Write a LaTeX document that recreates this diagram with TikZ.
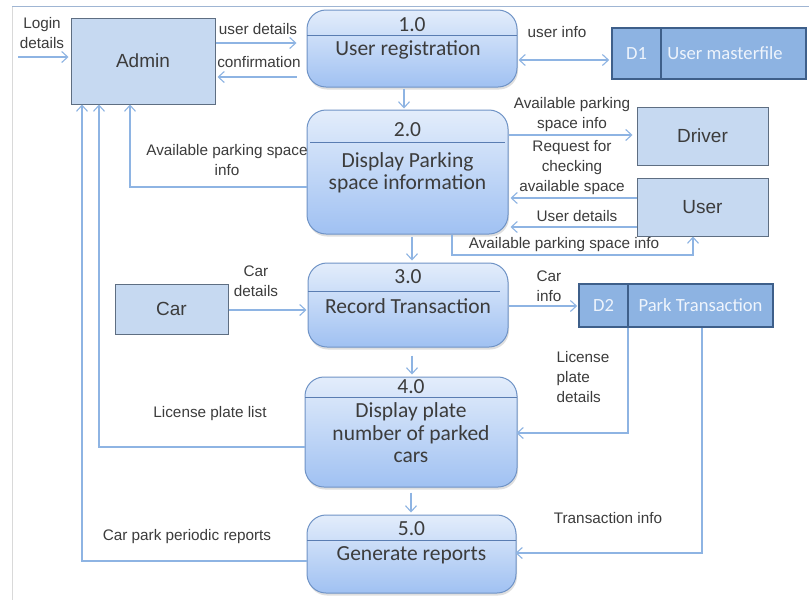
\documentclass[tikz,border=0pt]{standalone}
\usepackage{fontspec}
\setmainfont{Liberation Sans}
\newfontfamily\calibri{Carlito}
\usetikzlibrary{arrows.meta,shadows}

\definecolor{flowline}{HTML}{8EB4E3}
\definecolor{entfill}{HTML}{C6D9F1}
\definecolor{entline}{HTML}{5E6E82}
\definecolor{storefill}{HTML}{8DB3E2}
\definecolor{storeline}{HTML}{3E5F8A}
\definecolor{storetext}{HTML}{EEF4FC}
\definecolor{procline}{HTML}{6F93C6}
\definecolor{proctop}{HTML}{E3EDFB}
\definecolor{procbot}{HTML}{A0C1F2}
\definecolor{divline}{HTML}{5A7DB2}
\definecolor{txt}{HTML}{3C3C3C}
\definecolor{frametop}{HTML}{9FB5D3}

\tikzset{
  flow/.style={draw=flowline, line width=1.2pt, -{Straight Barb[length=6pt,width=11pt,line width=1.1pt]}},
  flowtwo/.style={draw=flowline, line width=1.2pt, {Straight Barb[length=6pt,width=11pt,line width=1.1pt]}-{Straight Barb[length=6pt,width=11pt,line width=1.1pt]}},
  entity/.style={draw=entline, fill=entfill, line width=1pt, inner sep=0pt,
    text=txt, font=\fontsize{19}{21}\selectfont},
  store/.style={draw=storeline, fill=storefill, line width=1.6pt, inner sep=0pt},
  storetxt/.style={text=storetext, font=\calibri\fontsize{18.6}{20}\selectfont, inner sep=0pt},
  proc/.style={draw=procline, line width=1pt, rounded corners=19pt, inner sep=0pt,
    top color=proctop, bottom color=procbot,
    drop shadow={shadow xshift=1pt, shadow yshift=-2.5pt, opacity=0.25}},
  divider/.style={draw=divline, line width=1pt},
  ptext/.style={text=txt, font=\calibri\fontsize{21.5}{22.5}\selectfont, align=center, inner sep=0pt},
  lbl/.style={text=txt, font=\fontsize{15.3}{20}\selectfont, align=center, inner sep=0pt},
}

\begin{document}
\begin{tikzpicture}[x=1pt, y=-1pt]
\useasboundingbox (0,0) rectangle (809,600);
\fill[white] (0,0) rectangle (809,600);

% page frame
\draw[draw=black!15, line width=1pt] (12,6.5) -- (12,600);
\draw[draw=frametop, line width=1pt] (12,6.5) -- (809,6.5);

% external entities
\node[entity, minimum width=144pt, minimum height=86pt] (admin) at (143,61) {Admin};
\node[entity, minimum width=131pt, minimum height=58pt] (driver) at (702.5,136) {Driver};
\node[entity, minimum width=131pt, minimum height=58pt] (user) at (702.5,207) {User};
\node[entity, minimum width=113pt, minimum height=50pt] (car) at (171.5,309) {Car};

% data stores
\node[store, minimum width=194pt, minimum height=51pt] (d1) at (709,53.5) {};
\draw[draw=storeline, line width=1.6pt] (661,28) -- (661,79);
\node[storetxt] (d1id) at (636.5,53.5) {D1};
\node[storetxt] (d1name) at (725,53.5) {User masterfile};

\node[store, minimum width=194pt, minimum height=43pt] (d2) at (676,305.5) {};
\draw[draw=storeline, line width=1.6pt] (628,284) -- (628,327);
\node[storetxt] (d2id) at (603.5,305.5) {D2};
\node[storetxt] (d2name) at (700.5,305.5) {Park Transaction};

% processes
\node[proc, minimum width=210pt, minimum height=77pt] (p1) at (412,48.5) {};
\draw[divider] (307,35) -- (517,35);
\node[ptext] (p1no) at (412,25) {1.0};
\node[ptext] (p1tx) at (408,50) {User registration};

\node[proc, minimum width=201pt, minimum height=124pt] (p2) at (407.5,172) {};
\draw[divider] (310,142) -- (505,142);
\node[ptext] (p2no) at (407.5,130) {2.0};
\node[ptext] (p2tx) at (407.5,173) {Display Parking\\space information};

\node[proc, minimum width=200pt, minimum height=84pt] (p3) at (408,305) {};
\draw[divider] (308,291) -- (500,291);
\node[ptext] (p3no) at (408,277) {3.0};
\node[ptext] (p3tx) at (408,306) {Record Transaction};

\node[proc, minimum width=212pt, minimum height=110pt] (p4) at (411,432) {};
\draw[divider] (305,397) -- (517,397);
\node[ptext] (p4no) at (411,387) {4.0};
\node[ptext] (p4tx) at (411,433) {Display plate\\number of parked\\cars};

\node[proc, minimum width=209pt, minimum height=78pt] (p5) at (411.5,554) {};
\draw[divider] (307,540) -- (516,540);
\node[ptext] (p5no) at (411.5,529) {5.0};
\node[ptext] (p5tx) at (411.5,555) {Generate reports};

% data flows
\coordinate (login) at (18,57);
\draw[flow, shorten >=2pt] (login) -- (admin.west |- login);
\draw[flow, shorten >=10pt] (admin.east |- 0,43) -- (p1.west |- 0,43);
\draw[flow, shorten <=10pt, shorten >=2pt] (p1.west |- 0,77) -- (admin.east |- 0,77);
\draw[flowtwo, shorten <=1pt, shorten >=2pt] (p1.east |- 0,60) -- (d1.west |- 0,60);

\draw[flow, shorten <=1pt, shorten >=1pt] (404,0 |- p1.south) -- (404,0 |- p2.north);
\draw[flow, shorten >=4pt] (p2.east |- 0,135) -- (driver.west |- 0,135);
\draw[flow, shorten >=2pt] (user.west |- 0,198) -- (p2.east |- 0,198);
\draw[flow, shorten >=2pt] (user.west |- 0,227) -- (p2.east |- 0,227);
\draw[flow] (452,0 |- p2.south) -- (452,255) -- (693,255) -- (693,0 |- user.south);
\draw[flow, shorten <=2pt, shorten >=2pt] (412,0 |- p2.south) -- (412,0 |- p3.north);
\draw[flow] (p2.west |- 0,187) -- (130,187) -- (130,0 |- admin.south);

\draw[flow, shorten >=1pt] (car.east |- 0,310) -- (p3.west |- 0,310);
\draw[flow, shorten >=1pt] (p3.east |- 0,306) -- (d2.west |- 0,306);
\draw[flow, shorten <=8pt, shorten >=2pt] (412,0 |- p3.south) -- (412,0 |- p4.north);

\draw[flow, shorten >=-1pt] (628,0 |- d2.south) -- (628,433) -- (p4.east |- 0,433);
\draw[flow] (p4.west |- 0,447) -- (99,447) -- (99,0 |- admin.south);
\draw[flow, shorten <=5pt, shorten >=2pt] (411,0 |- p4.south) -- (411,0 |- p5.north);

\draw[flow, shorten >=-1pt] (702,0 |- d2.south) -- (702,553) -- (p5.east |- 0,553);
\draw[flow] (p5.west |- 0,561) -- (82,561) -- (82,0 |- admin.south);

% flow labels
\node[lbl] (l-login) at (42,33) {Login\\details};
\node[lbl] (l-ud) at (258,29) {user details};
\node[lbl] (l-conf) at (259,62) {confirmation};
\node[lbl] (l-uinfo) at (557,32) {user info};
\node[lbl] (l-aps1) at (572,115) {Available parking\\space info};
\node[lbl] (l-req) at (572,168) {Request for\\checking\\available space};
\node[lbl] (l-udet) at (577,216) {User details};
\node[lbl] (l-aps2) at (564,245) {Available parking space info};
\node[lbl] (l-aps3) at (227,160) {Available parking space\\info};
\node[lbl] (l-card) at (256,281) {Car\\details};
\node[lbl] (l-cari) at (549,286) {Car\\info};
\node[lbl, align=left] (l-lpd) at (583,377) {License\\plate\\details};
\node[lbl] (l-lpl) at (210,414) {License plate list};
\node[lbl] (l-tri) at (608,518) {Transaction info};
\node[lbl] (l-cpr) at (187,537) {Car park periodic reports};
\end{tikzpicture}
\end{document}
